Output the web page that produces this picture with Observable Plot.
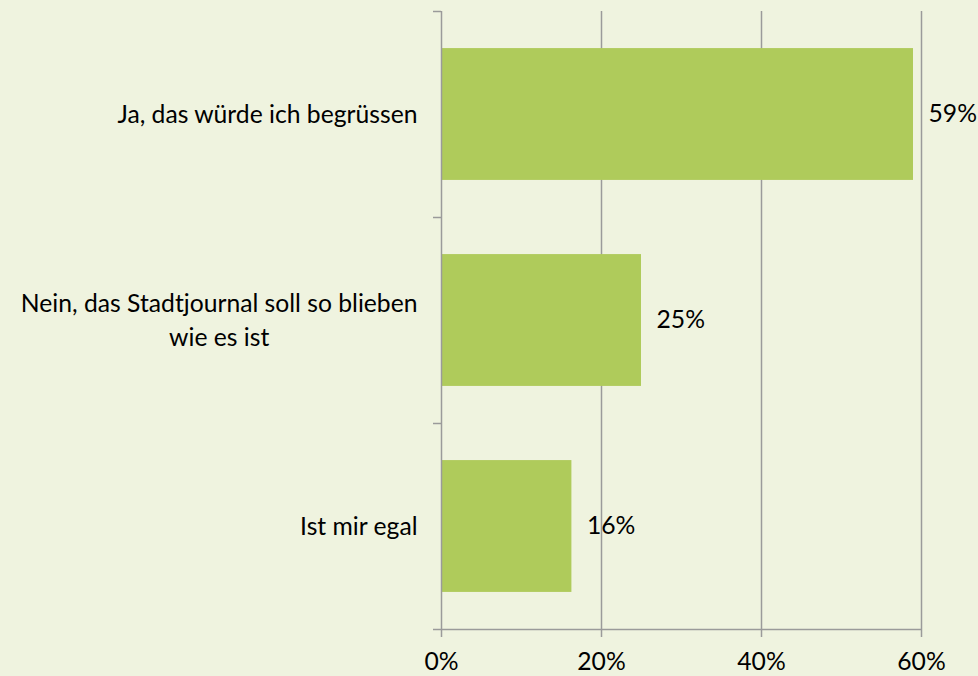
<!DOCTYPE html>
<html>
<head>
<meta charset="utf-8">
<script src="https://cdn.jsdelivr.net/npm/d3@7"></script>
<script src="https://cdn.jsdelivr.net/npm/@observablehq/plot@0.6"></script>
<style>
  html, body { margin: 0; padding: 0; background: #eff3df; }
  #chart svg { display: block; background: #eff3df; }
</style>
</head>
<body>
<div id="chart"></div>
<script>
const categories = ["Ja, das würde ich begrüssen", "Nein, das Stadtjournal soll so blieben wie es ist", "Ist mir egal"];
const values = [0.59, 0.25, 0.163];
const xTicks = [0, 0.2, 0.4, 0.6];

const data = categories.map((c, i) => ({cat: c, value: values[i], i}));
const FONT = "Lato";
const FS = 24.7;
const GRAY = "#9a9a9a";

const chart = Plot.plot({
  width: 978,
  height: 676,
  marginLeft: 441,
  marginRight: 57,
  marginTop: 11,
  marginBottom: 47,
  style: {background: "#eff3df", fontFamily: FONT, fontSize: FS + "px", color: "#000"},
  x: {domain: [0, 0.6]},
  y: {domain: [0, 3], reverse: true},
  marks: [
    Plot.ruleX(xTicks.slice(1), {y1: 0, y2: 3, stroke: GRAY, strokeWidth: 1.5}),
    Plot.rectX(data, {x1: 0, x2: "value", y1: d => d.i + 0.18, y2: d => d.i + 0.82, fill: "#afcb5b"}),
    Plot.ruleX([0], {y1: 0, y2: 3, stroke: GRAY, strokeWidth: 1.5}),
    Plot.ruleY([3], {x1: 0, x2: 0.6, stroke: GRAY, strokeWidth: 1.5}),
    Plot.axisX({ticks: xTicks, tickSize: 8, tickPadding: 15, stroke: GRAY, strokeWidth: 1.5, tickFormat: d3.format(".0%"), fontSize: FS, fill: "#000", label: null}),
    Plot.axisY({ticks: [0, 1, 2, 3], tickSize: 8, stroke: GRAY, strokeWidth: 1.5, tickFormat: () => "", label: null}),
    Plot.text(data, {x: 0, y: d => d.i + 0.5, text: "cat", textAnchor: "end", dx: -24, dy: -2, lineWidth: 19, lineHeight: 1.38, fontSize: FS, fill: "#000", className: "cat-labels"}),
    Plot.text(data, {x: "value", y: d => d.i + 0.5, text: d => d3.format(".0%")(d.value), textAnchor: "start", dx: 15, fontSize: FS, fill: "#000"})
  ]
});
document.getElementById("chart").append(chart);

// Center multi-line category labels within their block (right edge kept)
chart.querySelectorAll("g.cat-labels text").forEach(t => {
  const spans = t.querySelectorAll("tspan");
  if (spans.length > 1) {
    let w = 0;
    spans.forEach(s => { w = Math.max(w, s.getComputedTextLength()); });
    t.setAttribute("text-anchor", "middle");
    const tr = t.getAttribute("transform") || "";
    t.setAttribute("transform", tr + ` translate(${-w / 2},0)`);
  }
});
</script>
</body>
</html>
